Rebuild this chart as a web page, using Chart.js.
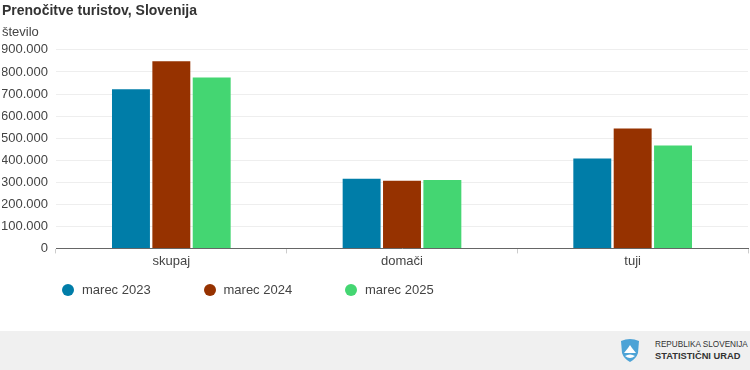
<!DOCTYPE html>
<html>
<head>
<meta charset="utf-8">
<script src="https://cdn.jsdelivr.net/npm/chart.js@4"></script>
<style>
  html, body { margin: 0; padding: 0; background: #fff; }
  body { width: 750px; height: 370px; position: relative; overflow: hidden; font-family: "Liberation Sans", Arial, sans-serif; }
  #wrap { position: absolute; left: 0; top: 0; width: 750px; height: 331px; }
  #legend { position: absolute; left: 62px; top: 282px; display: flex; color: #444; font-size: 13px; line-height: 16px; }
  #legend div { width: 141.5px; display: flex; align-items: center; }
  #legend i { width: 12px; height: 12px; border-radius: 50%; margin-right: 8px; }
  #footer { position: absolute; left: 0; top: 331px; width: 750px; height: 39px; background: #f0f0f0; }
  #footer svg { position: absolute; left: 620px; top: 7px; }
  #footer p { position: absolute; left: 655px; margin: 0; color: #333; white-space: nowrap; }
</style>
</head>
<body>
<div id="wrap"><canvas id="chart"></canvas></div>
<div id="legend"></div>
<div id="footer">
  <svg width="20" height="25" viewBox="0 0 20 25">
    <path d="M1 3 Q10 -1 19 3 L18 15 Q16 21 10 24 Q4 21 2 15 Z" fill="#4da3d6"/>
    <path d="M4 15 L8 10 L10 7 L12 10 L16 15 Z" fill="#fff"/>
    <path d="M5 18 Q10 15 15 18 Q10 22 5 18 Z" fill="#fff"/>
  </svg>
  <p style="top:9px;font-size:8.2px">REPUBLIKA SLOVENIJA</p>
  <p style="top:20px;font-size:9.3px;font-weight:bold">STATISTIČNI URAD</p>
</div>
<script>
var kategorije = ["skupaj", "domači", "tuji"];
var marec2023 = [722000, 316000, 408000];
var marec2024 = [849000, 307000, 544000];
var marec2025 = [775000, 310000, 467000];

var chart = new Chart('chart', {
  type: "bar",
  data: {
    labels: kategorije,
    datasets: [
      { label: "marec 2023", data: marec2023, backgroundColor: '#007da8' },
      { label: "marec 2024", data: marec2024, backgroundColor: '#963200' },
      { label: "marec 2025", data: marec2025, backgroundColor: '#44d672' }
    ]
  },
  options: {
    responsive: true,
    maintainAspectRatio: false,
    animation: false,
    categoryPercentage: 0.525,
    barPercentage: 0.94,
    layout: { padding: { left: 2, right: 2, top: 0, bottom: 62 } },
    plugins: {
      legend: { display: false },
      tooltip: { enabled: false },
      title: {
        display: true, text: "Prenočitve turistov, Slovenija", align: 'start',
        color: '#333', font: { family: "Liberation Sans", size: 14, weight: 'bold' },
        padding: { top: 3, bottom: 5 }
      },
      subtitle: {
        display: true, text: "število", align: 'start',
        color: '#444', font: { family: "Liberation Sans", size: 13 },
        padding: { top: 0, bottom: 9.5 }
      }
    },
    scales: {
      x: {
        grid: { drawOnChartArea: false, tickColor: '#ccc', tickLength: 5 },
        border: { color: '#666' },
        ticks: { color: '#444', font: { family: "Liberation Sans", size: 13 }, padding: 0 }
      },
      y: {
        min: 0, max: 900000,
        afterFit: function (scale) { scale.width = 54; },
        grid: { color: '#eee', tickLength: 8, tickColor: 'transparent' },
        border: { display: false },
        ticks: {
          stepSize: 100000, color: '#444', padding: 0,
          font: { family: "Liberation Sans", size: 13 },
          callback: function (v) { return v === 0 ? "0" : v.toLocaleString('de-DE'); }
        }
      }
    }
  }
});

chart.data.datasets.forEach(function (d) {
  var item = document.createElement('div');
  item.innerHTML = '<i style="background:' + d.backgroundColor + '"></i>' + d.label;
  document.getElementById('legend').appendChild(item);
});
</script>
</body>
</html>
